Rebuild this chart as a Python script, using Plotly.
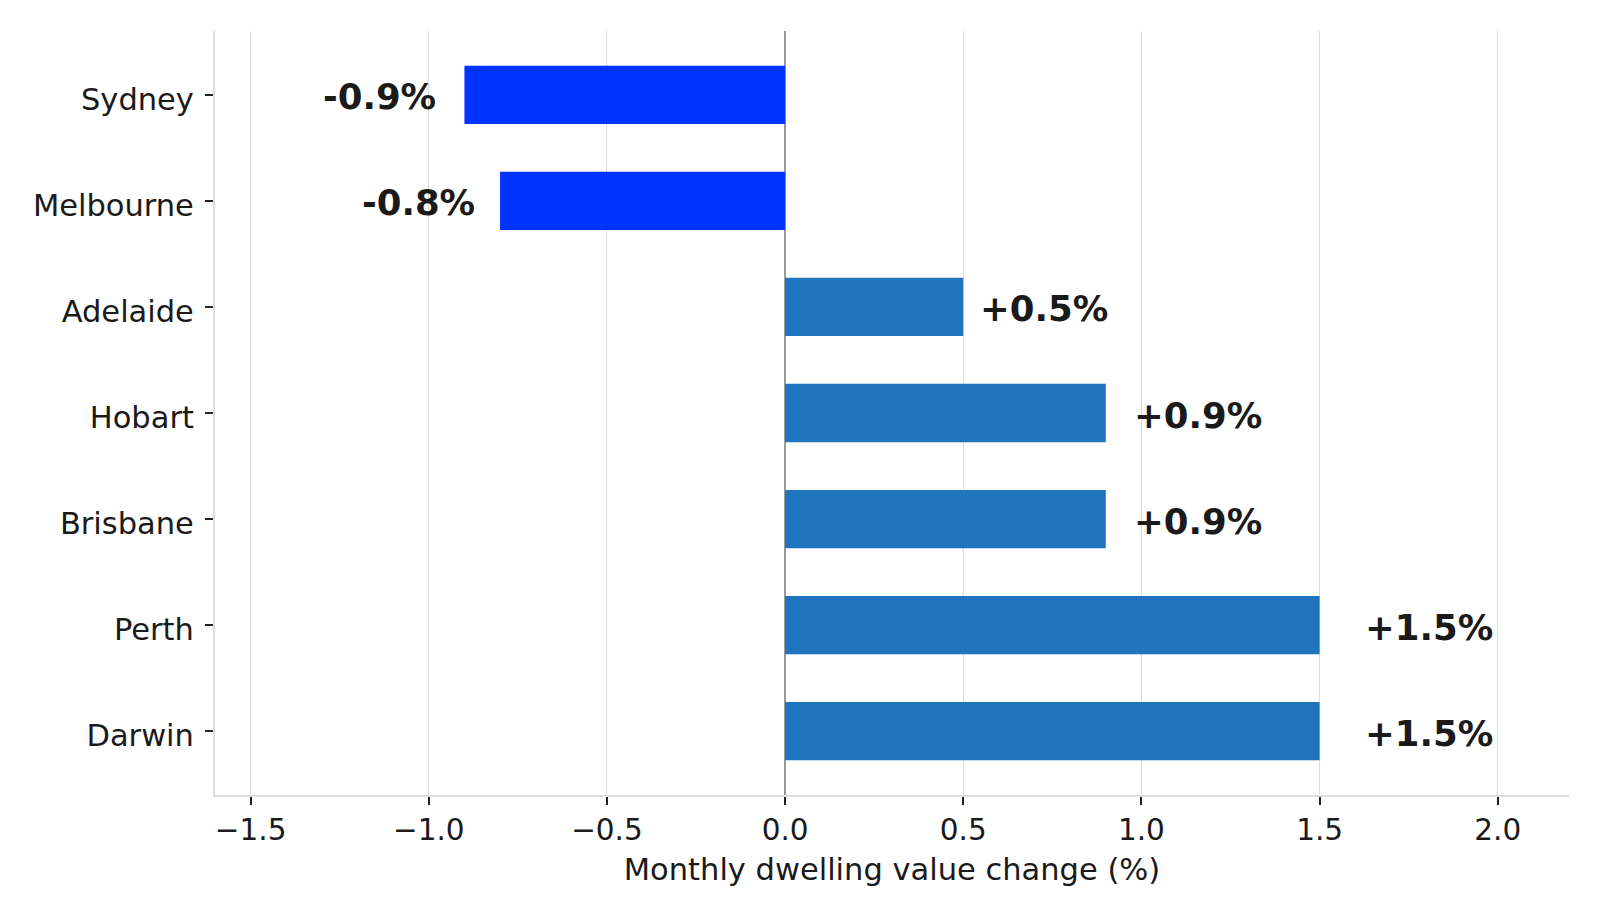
import plotly.graph_objects as go

cities = ["Sydney", "Melbourne", "Adelaide", "Hobart", "Brisbane", "Perth", "Darwin"]
changes = [-0.9, -0.8, 0.5, 0.9, 0.9, 1.5, 1.5]
labels = ["-0.9%", "-0.8%", "+0.5%", "+0.9%", "+0.9%", "+1.5%", "+1.5%"]
x_ticks = [-1.5, -1.0, -0.5, 0.0, 0.5, 1.0, 1.5, 2.0]

NEG = "#0033ff"
POS = "#1f74bd"
colors = [NEG if v < 0 else POS for v in changes]

fig = go.Figure()
fig.add_trace(go.Bar(
    x=changes, y=cities, orientation="h",
    marker=dict(color=colors, line=dict(width=0)),
    hoverinfo="x+y",
))

for c, v, t in zip(cities, changes, labels):
    fig.add_annotation(
        x=v * 1.082, y=c, text=t, showarrow=False, yshift=-2,
        xanchor="left" if v >= 0 else "right", yanchor="middle",
        font=dict(family="DejaVu Sans", size=35.5, color="#1a1a1a", weight="bold"),
    )

fig.update_layout(
    width=1600, height=919,
    margin=dict(l=215, r=31, t=31, b=124),
    paper_bgcolor="white", plot_bgcolor="white",
    bargap=0.45, showlegend=False,
    font=dict(family="DejaVu Sans", color="#1a1a1a"),
)
fig.update_xaxes(
    range=[-1.6, 2.2], tickvals=x_ticks, tickformat=".1f",
    showgrid=True, gridcolor="#dddddd", gridwidth=1,
    zeroline=True, zerolinecolor="#999999", zerolinewidth=2,
    showline=True, linecolor="#dddddd", linewidth=2,
    ticks="outside", ticklen=8, tickwidth=2, tickcolor="#222222",
    tickfont=dict(size=29.5, color="#1a1a1a"),
    title=dict(text="Monthly dwelling value change (%)", font=dict(size=30.5, color="#1a1a1a"), standoff=12),
    layer="above traces",
)
fig.update_yaxes(
    type="category", categoryorder="array", categoryarray=cities,
    range=[6.6025, -0.6025],
    showgrid=False, zeroline=False,
    showline=True, linecolor="#dddddd", linewidth=2,
    ticks="outside", ticklen=8, tickwidth=2, tickcolor="#222222",
    ticklabelstandoff=5, ticklabelshift=-4,
    tickfont=dict(size=30.5, color="#1a1a1a"),
)

fig.write_html("out.html")
